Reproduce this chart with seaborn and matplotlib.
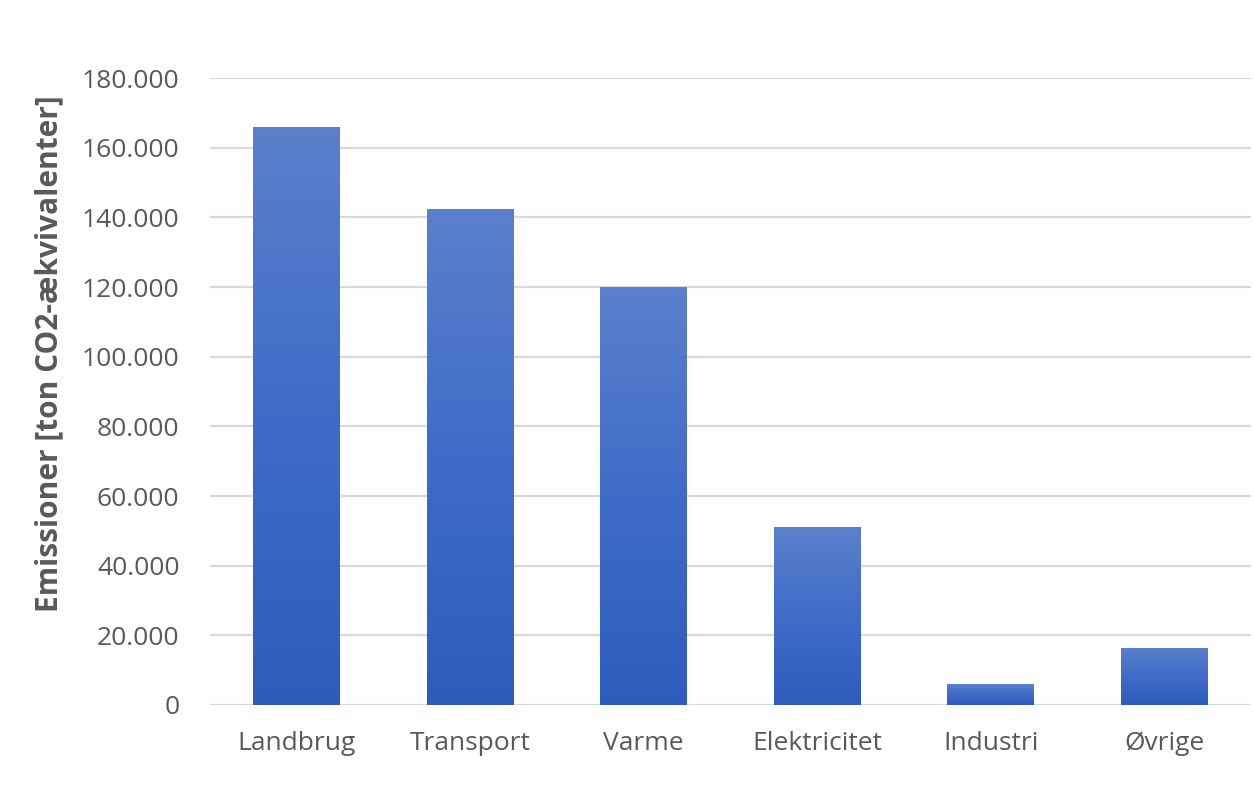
import numpy as np
import pandas as pd
import matplotlib
matplotlib.use("Agg")
import matplotlib.pyplot as plt
from matplotlib.ticker import FuncFormatter, MultipleLocator
from matplotlib.colors import LinearSegmentedColormap
import seaborn as sns

# Emissions per sector (tons CO2 equivalents)
sectors = ["Landbrug", "Transport", "Varme", "Elektricitet", "Industri", "Øvrige"]
emissions = [166000, 142500, 120000, 51000, 6000, 16300]

sns.set_theme(style="white")
plt.rcParams["font.family"] = ["Open Sans", "DejaVu Sans"]

df = pd.DataFrame({"sector": sectors, "emissions": emissions})

fig = plt.figure(figsize=(12.54, 8.07), dpi=100)
ax = fig.add_axes([0.1675, 0.1264, 0.8301, 0.7769])

sns.barplot(data=df, x="sector", y="emissions", color="#4472C4",
            width=0.5, ax=ax, saturation=1)

# vertical gradient fill: lighter at the top, darker at the base
grad_cmap = LinearSegmentedColormap.from_list(
    "bar_grad", ["#2E5CBD", "#3F6CC8", "#5B80CC"])
grad = np.linspace(0, 1, 256).reshape(-1, 1)
for patch in ax.patches:
    x0, y0 = patch.get_x(), patch.get_y()
    w, h = patch.get_width(), patch.get_height()
    im = ax.imshow(grad, cmap=grad_cmap, origin="lower", aspect="auto",
                   extent=[x0, x0 + w, y0, y0 + h], zorder=3)
    im.set_clip_path(patch)
    patch.set_facecolor("none")
    patch.set_edgecolor("none")

ax.set_xlim(-0.5, len(sectors) - 0.5)
ax.set_ylim(0, 180000)
ax.yaxis.set_major_locator(MultipleLocator(20000))
ax.yaxis.set_major_formatter(
    FuncFormatter(lambda v, _: f"{v:,.0f}".replace(",", ".")))

ax.grid(axis="y", color="#D9D9D9", linewidth=1.6, zorder=0)
ax.set_axisbelow(True)
for side in ["top", "right", "left", "bottom"]:
    ax.spines[side].set_visible(False)

ax.tick_params(axis="both", length=0, labelsize=19, colors="#595959")
ax.tick_params(axis="y", pad=22)
ax.tick_params(axis="x", pad=19)
ax.set_xlabel("")
ax.set_ylabel("Emissioner [ton CO2-ækvivalenter]", fontsize=21.5,
              fontweight="bold", color="#595959")
ax.yaxis.set_label_coords(-0.14, 0.56)

fig.savefig("out.png", dpi=100, facecolor="white")
